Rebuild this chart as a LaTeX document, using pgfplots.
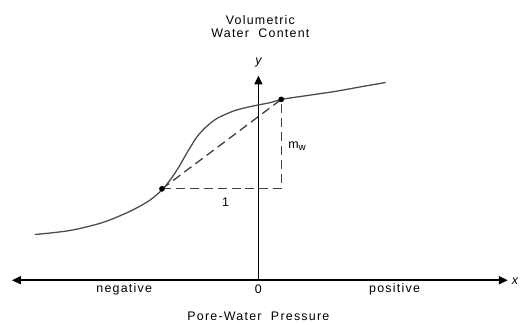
\documentclass[border=0pt]{standalone}
\usepackage{pgfplots}
\pgfplotsset{compat=1.18}
\usepackage{fontspec}
\setmainfont{Liberation Sans}[LetterSpace=10]
\usetikzlibrary{arrows.meta}
\newcommand\lf{\fontsize{12.5}{14}\selectfont}
\begin{document}
\begin{tikzpicture}
\begin{axis}[
  scale only axis, width=523pt, height=327pt,
  xmin=0, xmax=523, ymin=0, ymax=327, y dir=reverse,
  hide axis, clip=false
]
\path (rel axis cs:0,0) rectangle (rel axis cs:1,1);
% axes
\addplot[black, line width=1.6pt, {Triangle[length=9pt,width=8pt]}-{Triangle[length=9pt,width=8pt]}] coordinates {(12,282) (511,282)};
\addplot[black, line width=1.4pt, -{Triangle[length=9pt,width=8pt]}] coordinates {(260,282) (260,76)};
% curve
\addplot[black!70, line width=1.3pt, smooth, tension=0.5] coordinates {
(35,236) (70,232) (103,224) (130,213) (150,202) (163,191) (172,180) (180,168)
(188,154) (198,138) (207,128) (217,120) (227,115) (237,111) (253,107) (273,103)
(283,100) (310,96) (337,92) (365,87) (388,83)};
% dashed lines
\addplot[black!75, line width=1.3pt, dash pattern=on 9pt off 5pt] coordinates {(163,190) (283,100)};
\addplot[black!75, line width=1.3pt, dash pattern=on 9pt off 5pt] coordinates {(163,190) (283,190) (283,100)};
% points
\addplot[only marks, mark=*, mark size=2.6pt, black] coordinates {(163,190) (283,100)};
% labels
\node at (axis cs:262,20) {\lf Volumetric};
\node at (axis cs:262,33) {\lf Water\ \ Content};
\node at (axis cs:261,63) {\lf\textit{y}};
\node at (axis cs:519,283) {\lf\textit{x}};
\node at (axis cs:125,291) {\lf negative};
\node at (axis cs:260,291) {\lf 0};
\node at (axis cs:397,291) {\lf positive};
\node at (axis cs:260,318) {\lf Pore-Water\ \ Pressure};
\node at (axis cs:227,203) {\lf 1};
\node at (axis cs:299,147) {\lf m\raisebox{-0.35ex}{\fontsize{10}{11}\selectfont w}};
\end{axis}
\end{tikzpicture}
\end{document}
